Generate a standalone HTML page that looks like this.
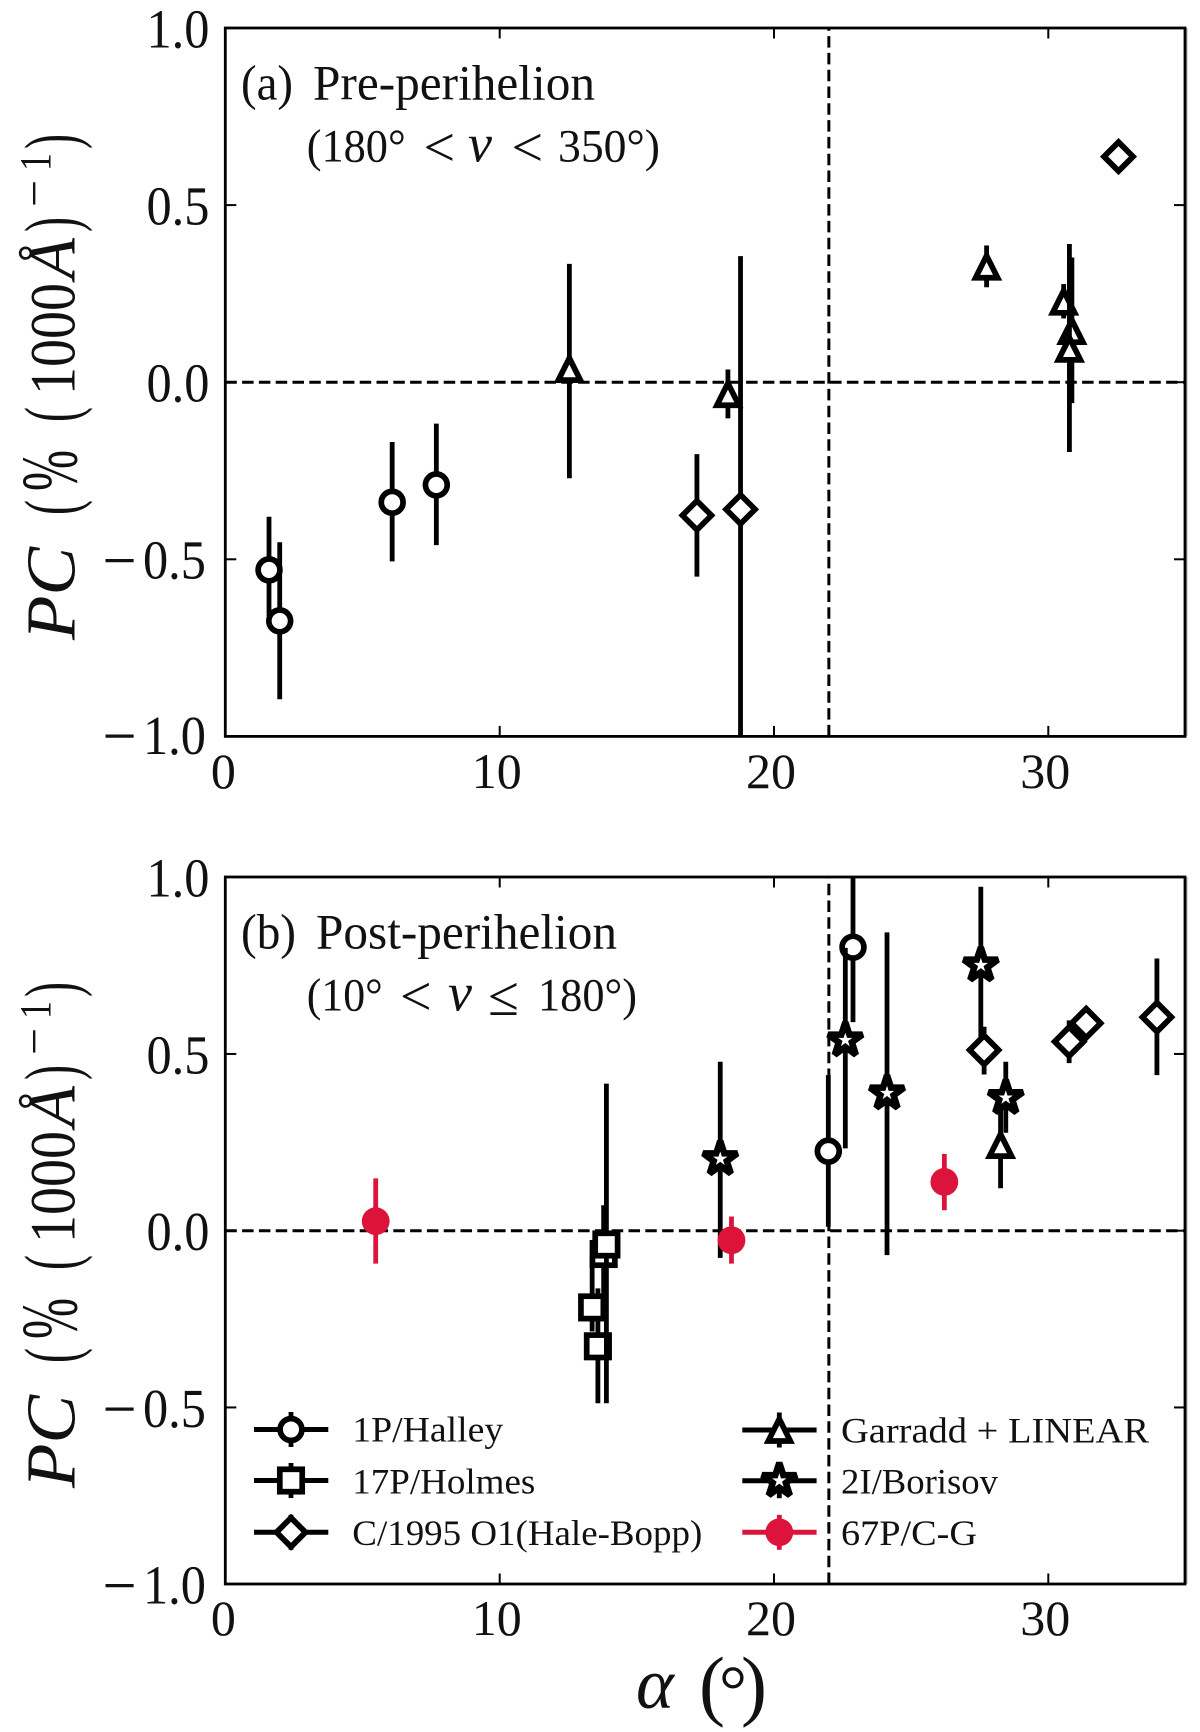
<!DOCTYPE html>
<html lang="en">
<head>
<meta charset="utf-8">
<title>PC vs phase angle</title>
<style>
html,body{margin:0;padding:0;background:#fff;}
svg{display:block;}
text{font-family:"Liberation Serif","DejaVu Serif",serif;fill:#111;}
</style>
</head>
<body>
<svg id="chart" xmlns="http://www.w3.org/2000/svg" width="1200" height="1732" viewBox="0 0 1200 1732">
<defs>
<clipPath id="clip-a"><rect x="225.3" y="28" width="960" height="708.4"/></clipPath>
<clipPath id="clip-b"><rect x="225.3" y="877" width="960" height="707"/></clipPath>
</defs>
<rect x="0" y="0" width="1200" height="1732" fill="#fff"/>

<g>
<text transform="translate(74.3,640) rotate(-90)" font-size="70" font-style="italic" textLength="93" lengthAdjust="spacingAndGlyphs">PC</text>
<text transform="translate(76.5,515) rotate(-90)" font-size="75" textLength="15" lengthAdjust="spacingAndGlyphs">(</text>
<text transform="translate(76.7,491) rotate(-90)" font-size="80" textLength="41" lengthAdjust="spacingAndGlyphs">%</text>
<text transform="translate(76.5,422) rotate(-90)" font-size="75" textLength="15" lengthAdjust="spacingAndGlyphs">(</text>
<text transform="translate(74.3,395) rotate(-90)" font-size="65" textLength="112" lengthAdjust="spacingAndGlyphs">1000</text>
<text transform="translate(74.3,279) rotate(-90)" font-size="68" font-style="italic" textLength="41" lengthAdjust="spacingAndGlyphs">Å</text>
<text transform="translate(76.5,232) rotate(-90)" font-size="75" textLength="15" lengthAdjust="spacingAndGlyphs">)</text>
<text transform="translate(50,207) rotate(-90)" font-size="48" textLength="27" lengthAdjust="spacingAndGlyphs">−</text>
<text transform="translate(50,171) rotate(-90)" font-size="44" textLength="18" lengthAdjust="spacingAndGlyphs">1</text>
<text transform="translate(76.5,149) rotate(-90)" font-size="75" textLength="15" lengthAdjust="spacingAndGlyphs">)</text>
</g>
<g transform="translate(0,848)">
<text transform="translate(74.3,640) rotate(-90)" font-size="70" font-style="italic" textLength="93" lengthAdjust="spacingAndGlyphs">PC</text>
<text transform="translate(76.5,515) rotate(-90)" font-size="75" textLength="15" lengthAdjust="spacingAndGlyphs">(</text>
<text transform="translate(76.7,491) rotate(-90)" font-size="80" textLength="41" lengthAdjust="spacingAndGlyphs">%</text>
<text transform="translate(76.5,422) rotate(-90)" font-size="75" textLength="15" lengthAdjust="spacingAndGlyphs">(</text>
<text transform="translate(74.3,395) rotate(-90)" font-size="65" textLength="112" lengthAdjust="spacingAndGlyphs">1000</text>
<text transform="translate(74.3,279) rotate(-90)" font-size="68" font-style="italic" textLength="41" lengthAdjust="spacingAndGlyphs">Å</text>
<text transform="translate(76.5,232) rotate(-90)" font-size="75" textLength="15" lengthAdjust="spacingAndGlyphs">)</text>
<text transform="translate(50,207) rotate(-90)" font-size="48" textLength="27" lengthAdjust="spacingAndGlyphs">−</text>
<text transform="translate(50,171) rotate(-90)" font-size="44" textLength="18" lengthAdjust="spacingAndGlyphs">1</text>
<text transform="translate(76.5,149) rotate(-90)" font-size="75" textLength="15" lengthAdjust="spacingAndGlyphs">)</text>
</g>

<g>
<text x="241" y="99.3" font-size="50" textLength="52" lengthAdjust="spacingAndGlyphs">(a)</text>
<text x="313" y="99.3" font-size="50" textLength="282" lengthAdjust="spacingAndGlyphs">Pre-perihelion</text>
<text x="306.7" y="161.7" font-size="47" textLength="99" lengthAdjust="spacingAndGlyphs">(180°</text>
<text x="423.5" y="166" font-size="56">&lt;</text>
<text x="468" y="161.7" font-size="54" font-style="italic">ν</text>
<text x="511.5" y="166" font-size="56">&lt;</text>
<text x="558" y="161.7" font-size="47" textLength="102" lengthAdjust="spacingAndGlyphs">350°)</text>
</g>
<g>
<text x="241" y="948.3" font-size="50" textLength="55" lengthAdjust="spacingAndGlyphs">(b)</text>
<text x="316" y="948.3" font-size="50" textLength="301" lengthAdjust="spacingAndGlyphs">Post-perihelion</text>
<text x="306.7" y="1010.7" font-size="47" textLength="76" lengthAdjust="spacingAndGlyphs">(10°</text>
<text x="400" y="1015" font-size="56">&lt;</text>
<text x="448" y="1010.7" font-size="54" font-style="italic">ν</text>
<text x="488" y="1015" font-size="56">≤</text>
<text x="538" y="1010.7" font-size="47" textLength="99" lengthAdjust="spacingAndGlyphs">180°)</text>
</g>

<text y="1708"><tspan x="636" font-size="72" font-style="italic">α</tspan><tspan x="699" y="1711" font-size="78">(</tspan><tspan x="719" y="1714" font-size="70">°</tspan><tspan x="741" y="1711" font-size="78">)</tspan></text>
<g id="plot-root"></g>
</svg>

<script>
// ---- Axis ticks ----
const xTickValues = [0, 10, 20, 30];
const xTickLabels = ['0', '10', '20', '30'];
const yTickValues = [-1, -0.5, 0, 0.5, 1];
const yTickLabels = ['−1.0', '−0.5', '0.0', '0.5', '1.0'];

// ---- Panel (a) Pre-perihelion ----
const preHalleyAlpha = [1.59, 1.98, 6.08, 7.69];
const preHalleyPC = [-0.53, -0.674, -0.339, -0.29];
const preHalleyLow = [-0.66, -0.895, -0.506, -0.46];
const preHalleyHigh = [-0.38, -0.452, -0.169, -0.117];

const preHaleBoppAlpha = [17.19, 18.78, 32.56];
const preHaleBoppPC = [-0.376, -0.359, 0.637];
const preHaleBoppLow = [-0.549, -1.1, 0.62];
const preHaleBoppHigh = [-0.203, 0.356, 0.65];

const preGarraddAlpha = [12.54, 18.32, 27.75, 30.56, 30.86, 30.77];
const preGarraddPC = [0.037, -0.034, 0.326, 0.227, 0.144, 0.094];
const preGarraddLow = [-0.271, -0.102, 0.268, 0.18, -0.059, -0.197];
const preGarraddHigh = [0.334, 0.036, 0.386, 0.277, 0.352, 0.39];

// ---- Panel (b) Post-perihelion ----
const postHalleyAlpha = [21.98, 22.88];
const postHalleyPC = [0.225, 0.802];
const postHalleyLow = [0.011, 0.59];
const postHalleyHigh = [0.44, 1.1];

const postHolmesAlpha = [13.58, 13.37, 13.79, 13.89];
const postHolmesPC = [-0.327, -0.217, -0.066, -0.039];
const postHolmesLow = [-0.488, -0.285, -0.2, -0.488];
const postHolmesHigh = [-0.163, -0.07, 0.072, 0.416];

const postHaleBoppAlpha = [27.66, 30.76, 31.38, 33.96];
const postHaleBoppPC = [0.511, 0.535, 0.587, 0.604];
const postHaleBoppLow = [0.442, 0.474, 0.56, 0.44];
const postHaleBoppHigh = [0.577, 0.595, 0.615, 0.77];

const postGarraddAlpha = [28.26];
const postGarraddPC = [0.242];
const postGarraddLow = [0.12];
const postGarraddHigh = [0.36];

const postBorisovAlpha = [18.04, 22.6, 24.12, 27.54, 28.45];
const postBorisovPC = [0.203, 0.539, 0.389, 0.751, 0.376];
const postBorisovLow = [-0.077, 0.233, -0.069, 0.54, 0.277];
const postBorisovHigh = [0.478, 0.8, 0.844, 0.973, 0.478];

const postCGAlpha = [5.48, 18.45, 26.21];
const postCGPC = [0.027, -0.027, 0.138];
const postCGLow = [-0.093, -0.093, 0.058];
const postCGHigh = [0.148, 0.04, 0.217];

const criticalAlpha = 22;

const NS = 'http://www.w3.org/2000/svg';
const root = document.getElementById('plot-root');
const LEFT = 225.3, RIGHT = 1185, PXPERX = 27.43, X0 = 225.4;
const panels = {
  a: { key: 'a', top: 28, bottom: 736.4, y0: 382.2, k: 354.2, xBase: 788, clip: 'clip-a' },
  b: { key: 'b', top: 877, bottom: 1584, y0: 1230.7, k: 353.5, xBase: 1635, clip: 'clip-b' }
};
const xScale = v => X0 + v * PXPERX;
const yScale = (p, v) => p.y0 - v * p.k;

function mk(tag, parent, attrs) {
  const el = document.createElementNS(NS, tag);
  for (const k in attrs) el.setAttribute(k, attrs[k]);
  parent.appendChild(el);
  return el;
}

function starPath(cx, cy, R) {
  const r = R * 0.381966;
  let d = '';
  for (let i = 0; i < 10; i++) {
    const rad = i % 2 ? r : R;
    const ang = -Math.PI / 2 + i * Math.PI / 5;
    d += (i ? 'L' : 'M') + (cx + rad * Math.cos(ang)).toFixed(2) + ' ' + (cy + rad * Math.sin(ang)).toFixed(2);
  }
  return d + 'Z';
}

function drawMarker(type, cx, cy, color, parent, label) {
  const sw = 5.7;
  let el;
  if (type === 'circle') {
    el = mk('circle', parent, { cx: cx, cy: cy, r: 10.9, fill: '#fff', stroke: color, 'stroke-width': sw });
  } else if (type === 'square') {
    el = mk('rect', parent, { x: cx - 11.2, y: cy - 11.2, width: 22.4, height: 22.4, fill: '#fff', stroke: color, 'stroke-width': sw });
  } else if (type === 'diamond') {
    const s = 14.5;
    el = mk('path', parent, { d: `M${cx} ${cy - s}L${cx + s} ${cy}L${cx} ${cy + s}L${cx - s} ${cy}Z`, fill: '#fff', stroke: color, 'stroke-width': sw, 'stroke-miterlimit': 10 });
  } else if (type === 'triangle') {
    const s = 11;
    el = mk('path', parent, { d: `M${cx} ${cy - s}L${cx + s} ${cy + s}L${cx - s} ${cy + s}Z`, fill: '#fff', stroke: color, 'stroke-width': sw, 'stroke-miterlimit': 10 });
  } else if (type === 'star') {
    el = mk('path', parent, { d: starPath(cx, cy, 18), fill: '#fff', stroke: color, 'stroke-width': 6.5, 'stroke-linejoin': 'miter', 'stroke-miterlimit': 3 });
  } else {
    el = mk('circle', parent, { cx: cx, cy: cy, r: 13.9, fill: color, stroke: 'none' });
  }
  
  
  return el;
}

function drawSeries(p, name, type, color, alpha, pc, low, high) {
  const g = mk('g', p.marks, {});
  
  
  alpha.forEach((a, i) => {
    const px = xScale(a);
    const err = mk('line', g, { x1: px, x2: px, y1: yScale(p, low[i]), y2: yScale(p, high[i]), stroke: color, 'stroke-width': 4.8 });
    
    
    drawMarker(type, px, yScale(p, pc[i]), color, g, name);
  });
}

function drawAxes(p) {
  const frameGroup = mk('g', root, {});
  
  

  // reference lines
  const zero = mk('line', frameGroup, { x1: LEFT, x2: RIGHT, y1: yScale(p, 0), y2: yScale(p, 0), stroke: '#000', 'stroke-width': 3, 'stroke-dasharray': '11.5 5.3' });
  
  
  const crit = mk('line', frameGroup, { x1: xScale(criticalAlpha), x2: xScale(criticalAlpha), y1: p.bottom, y2: p.top, stroke: '#000', 'stroke-width': 3, 'stroke-dasharray': '11.5 5.3' });
  
  

  p.marks = mk('g', root, { 'clip-path': 'url(#' + p.clip + ')' });
  
  
}

function drawFrame(p) {
  const g = mk('g', root, {});
  
  

  const shadow = mk('line', g, { x1: RIGHT + 1.8, x2: RIGHT + 1.8, y1: p.top, y2: p.bottom, stroke: '#aaa', 'stroke-width': 1.4 });
  
  

  const frame = mk('rect', g, { x: LEFT, y: p.top, width: RIGHT - LEFT, height: p.bottom - p.top, fill: 'none', stroke: '#000', 'stroke-width': 2.8 });
  
  

  xTickValues.forEach((v, i) => {
    const px = xScale(v);
    if (v !== 0) {
      const t1 = mk('line', g, { x1: px, x2: px, y1: p.bottom, y2: p.bottom - 10.5, stroke: '#000', 'stroke-width': 2 });
      
      
      const t2 = mk('line', g, { x1: px, x2: px, y1: p.top, y2: p.top + 10.5, stroke: '#000', 'stroke-width': 2 });
      
      
    }
    const lab = mk('text', g, { x: v === 0 ? px - 2 : px - 3, y: p.xBase, 'font-size': 50, 'text-anchor': 'middle' });
    lab.textContent = xTickLabels[i];
    
    
  });

  yTickValues.forEach((v, i) => {
    const py = yScale(p, v);
    if (Math.abs(v) !== 1) {
      const t1 = mk('line', g, { x1: LEFT, x2: LEFT + 11, y1: py, y2: py, stroke: '#000', 'stroke-width': 2 });
      
      
      const t2 = mk('line', g, { x1: RIGHT, x2: RIGHT - 11, y1: py, y2: py, stroke: '#000', 'stroke-width': 2 });
      
      
    }
    const label = yTickLabels[i];
    const base = py + 19.4 - (p.key === 'a' && v === -1 ? 2 : 0);
    const neg = label[0] === '−';
    const originX = neg ? 143 : 146.5;
    const sx = 0.916;
    const lab = mk('text', g, { transform: `translate(${originX},${base}) scale(${sx},1)`, 'font-size': 55 });
    
    
    if (neg) {
      const m = mk('tspan', lab, { x: -44.2, 'font-size': 66, dy: 4 });
      m.textContent = '−';
      const d = mk('tspan', lab, { x: 0, dy: -4 });
      d.textContent = label.slice(1);
    } else {
      const d = mk('tspan', lab, { x: 0 });
      d.textContent = label;
    }
  });
}

function legendEntry(label, type, color, lineX1, rowY, textX, textY, textLen) {
  const g = mk('g', root, {});
  
  
  const cx = lineX1 + 37;
  const hl = mk('line', g, { x1: lineX1, x2: lineX1 + 74.3, y1: rowY, y2: rowY, stroke: color, 'stroke-width': 5 });
  
  
  const vl = mk('line', g, { x1: cx, x2: cx, y1: rowY - 17.5, y2: rowY + 17.5, stroke: color, 'stroke-width': 4.8 });
  
  
  drawMarker(type, cx, rowY, color, g, 'legend');
  const t = mk('text', g, { x: textX, y: textY, 'font-size': 36, textLength: textLen, lengthAdjust: 'spacingAndGlyphs' });
  t.textContent = label;
  
  
}

const BLACK = '#000', RED = '#dc143c';

drawAxes(panels.a);
drawAxes(panels.b);

drawSeries(panels.a, 'halley', 'circle', BLACK, preHalleyAlpha, preHalleyPC, preHalleyLow, preHalleyHigh);
drawSeries(panels.a, 'hale-bopp', 'diamond', BLACK, preHaleBoppAlpha, preHaleBoppPC, preHaleBoppLow, preHaleBoppHigh);
drawSeries(panels.a, 'garradd-linear', 'triangle', BLACK, preGarraddAlpha, preGarraddPC, preGarraddLow, preGarraddHigh);

drawSeries(panels.b, 'halley', 'circle', BLACK, postHalleyAlpha, postHalleyPC, postHalleyLow, postHalleyHigh);
drawSeries(panels.b, 'holmes', 'square', BLACK, postHolmesAlpha, postHolmesPC, postHolmesLow, postHolmesHigh);
drawSeries(panels.b, 'hale-bopp', 'diamond', BLACK, postHaleBoppAlpha, postHaleBoppPC, postHaleBoppLow, postHaleBoppHigh);
drawSeries(panels.b, 'garradd-linear', 'triangle', BLACK, postGarraddAlpha, postGarraddPC, postGarraddLow, postGarraddHigh);
drawSeries(panels.b, 'borisov', 'star', BLACK, postBorisovAlpha, postBorisovPC, postBorisovLow, postBorisovHigh);
drawSeries(panels.b, 'comet-67p', 'filled', RED, postCGAlpha, postCGPC, postCGLow, postCGHigh);

drawFrame(panels.a);
drawFrame(panels.b);

legendEntry('1P/Halley', 'circle', BLACK, 254, 1429.5, 352.3, 1441.7, 151);
legendEntry('17P/Holmes', 'square', BLACK, 254, 1480.5, 352.3, 1493.3, 183);
legendEntry('C/1995 O1(Hale-Bopp)', 'diamond', BLACK, 254, 1532.3, 352.3, 1545, 350);
legendEntry('Garradd + LINEAR', 'triangle', BLACK, 742.3, 1430, 841, 1442.7, 308);
legendEntry('2I/Borisov', 'star', BLACK, 742.3, 1480.7, 841, 1493.3, 157);
legendEntry('67P/C-G', 'filled', RED, 742.3, 1532.3, 841, 1545, 136);
</script>
</body>
</html>
